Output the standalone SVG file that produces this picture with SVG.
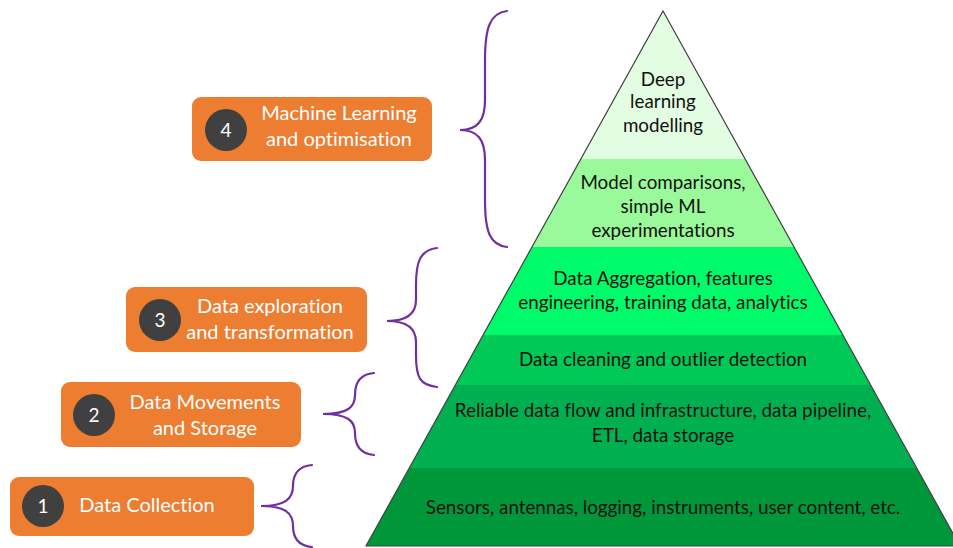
<svg xmlns="http://www.w3.org/2000/svg" width="953" height="548" viewBox="0 0 953 548">
<style>
.lbl{fill:#ED7D31}
.num{fill:#404040}
text{font-family:Lato,"Liberation Sans",sans-serif;font-variant-ligatures:none;text-anchor:middle}
.wt{fill:#fff;font-size:20px}
.nt{fill:#fff;font-size:19px}
.pt{fill:#111;font-size:18.8px}
.br{fill:none;stroke:#7030A0;stroke-width:2.2;stroke-linecap:round}
</style>
<rect width="953" height="548" fill="#fff"/>
<g id="pyramid">
<g id="layer6"><polygon points="409.3,468 916.7,468 960,546 366,546" fill="#00973B"/><text class="pt" x="663" y="514">Sensors, antennas, logging, instruments, user content, etc.</text></g>
<g id="layer5"><polygon points="455.4,385 870.6,385 916.7,468 409.3,468" fill="#00B050"/><text class="pt" x="663" y="417">Reliable data flow and infrastructure, data pipeline,</text><text class="pt" x="663" y="442">ETL, data storage</text></g>
<g id="layer4"><polygon points="483.1,335 842.9,335 870.6,385 455.4,385" fill="#00C957"/><text class="pt" x="663" y="366">Data cleaning and outlier detection</text></g>
<g id="layer3"><polygon points="532,247 794,247 842.9,335 483.1,335" fill="#00FB6A"/><text class="pt" x="663" y="285">Data Aggregation, features</text><text class="pt" x="663" y="309">engineering, training data, analytics</text></g>
<g id="layer2"><polygon points="580.8,159 745.2,159 794,247 532,247" fill="#99F99B"/><text class="pt" x="663" y="189">Model comparisons,</text><text class="pt" x="663" y="213">simple ML</text><text class="pt" x="663" y="237">experimentations</text></g>
<g id="layer1"><polygon points="663,11 745.2,159 580.8,159" fill="#E3FDE3"/><text class="pt" x="663" y="86">Deep</text><text class="pt" x="663" y="108">learning</text><text class="pt" x="663" y="132">modelling</text></g>
<polygon points="663,11 960,546 366,546" fill="none" stroke="#404040" stroke-width="1.2"/>
</g>
<g id="connectors">
<path class="br" d="M507,11 C490,13 485,28 485,60 L485,100 C485,120 478,130 460,130 C478,130 485,140 485,160 L485,200 C485,232 490,245 507,247"/>
<path class="br" d="M437,248 C420,250 416,262 416,285 L416,300 C416,313 408,321 387,321 C408,321 416,329 416,342 L416,355 C416,378 420,385 437,387"/>
<path class="br" d="M374,373 C362,374 355,380 355,395 C355,407 348,414 323,414 C348,414 355,421 355,433 C355,448 362,454 374,455"/>
<path class="br" d="M312,465 C300,466 293,472 293,486 C293,499 285,506 261,506 C285,506 293,513 293,526 C293,540 300,546 312,547"/>
</g>
<g id="label4"><rect class="lbl" x="192" y="97" width="240" height="64" rx="9"/><circle class="num" cx="226" cy="130" r="21"/><text class="nt" x="226" y="137">4</text><text class="wt" x="339" y="120">Machine Learning</text><text class="wt" x="339" y="146">and optimisation</text></g>
<g id="label3"><rect class="lbl" x="126" y="287" width="241" height="65" rx="9"/><circle class="num" cx="160" cy="320" r="21"/><text class="nt" x="160" y="327">3</text><text class="wt" x="270" y="313">Data exploration</text><text class="wt" x="270" y="339">and transformation</text></g>
<g id="label2"><rect class="lbl" x="61" y="382" width="240" height="65" rx="9"/><circle class="num" cx="94" cy="415" r="21"/><text class="nt" x="94" y="422">2</text><text class="wt" x="205" y="409">Data Movements</text><text class="wt" x="205" y="435">and Storage</text></g>
<g id="label1"><rect class="lbl" x="10" y="477" width="244" height="59" rx="9"/><circle class="num" cx="43" cy="506" r="21"/><text class="nt" x="43" y="513">1</text><text class="wt" x="147" y="512">Data Collection</text></g>
</svg>
